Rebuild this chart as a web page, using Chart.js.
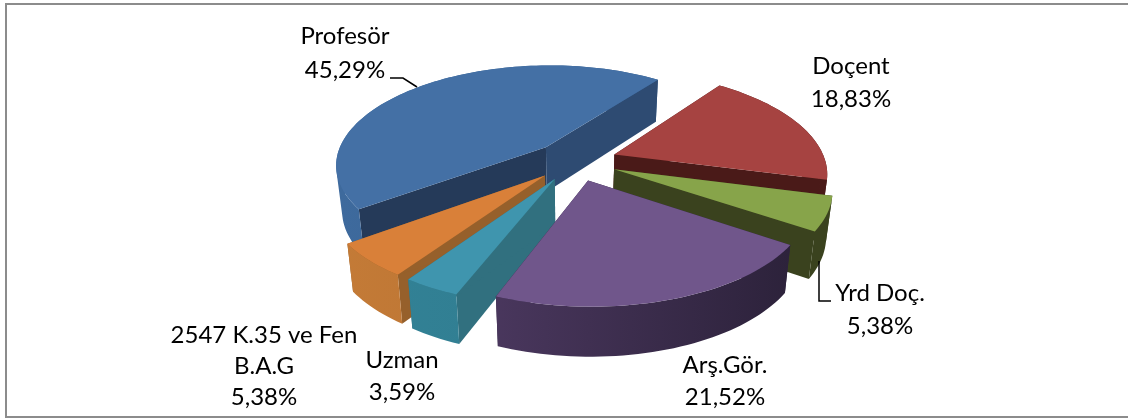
<!DOCTYPE html>
<html><head><meta charset="utf-8">
<style>html,body{margin:0;padding:0;background:#fff;overflow:hidden}#w{width:1128px;height:419px;position:relative}</style>
<script src="https://cdn.jsdelivr.net/npm/chart.js@4/dist/chart.umd.js"></script>
</head><body><div id="w"><canvas id="c" width="1128" height="419"></canvas></div>
<script>
const categories = ['Profesör','Doçent','Yrd Doç.','Arş.Gör.','Uzman','2547 K.35 ve Fen B.A.G'];
const values = [45.29,18.83,5.38,21.52,3.59,5.38];
const valueLabels = ['45,29%','18,83%','5,38%','21,52%','3,59%','5,38%'];
const topColors = ['#4470A5','#A64341','#87A44A','#70568B','#3F95AE','#D98039'];
const startWallColors = ['#253A59','#4A1A18','#3A421E','#2E2340','#31707F','#96602B'];
const endWallColors = ['#2E4B72','#4A1A18','#3A421E','#2E2340','#31707F','#96602B'];
const wallLeftColors = [[62,106,157],[90,40,38],[58,66,30],[85,63,107],[50,130,150],[196,123,55]];
const wallRightColors = [[50,90,135],[74,26,24],[58,66,30],[43,33,57],[48,120,140],[176,107,46]];
const labelSpots = [[345,[36,70]],[851,[66,99]],[880,[293,326]],[725,[365,397]],[402,[360,392]],[264,[335,366,397]]];
const labelLines = [['Profesör'],['Doçent'],['Yrd Doç.'],['Arş.Gör.'],['Uzman'],['2547 K.35 ve Fen','B.A.G']];

const SX=211, SY=99, KX=0.17, KY=0.16, DEPTH=45, DP=0.5, SHRINK=0.975, EXPLODE=0.2, Y0=161;
const css=c=>`rgb(${c.join(',')})`;

const pie3d = {
  id:'pie3d',
  beforeDatasetsDraw(chart){
    const ctx=chart.ctx, arcs=chart.getDatasetMeta(0).data;
    const cx=arcs[0].x;
    const proj=(U,V,low)=>{
      const FX=1/(1-KX*V), F=1/(1-KY*V);
      let x=cx+SX*U*FX, y=Y0+SY*V*F;
      if(low){ x=cx+(x-cx)*SHRINK; y+=DEPTH*Math.pow(F,DP); }
      return [x,y];
    };
    const poly=(pts,fill)=>{
      ctx.beginPath(); pts.forEach((p,i)=>i?ctx.lineTo(p[0],p[1]):ctx.moveTo(p[0],p[1]));
      ctx.closePath(); ctx.fillStyle=fill; ctx.fill();
    };
    const items=arcs.map((a,i)=>{
      const mid=(a.startAngle+a.endAngle)/2;
      return {a,i,ox:EXPLODE*Math.cos(mid),oy:EXPLODE*Math.sin(mid)};
    }).sort((p,q)=>p.oy-q.oy);
    items.forEach(({a,i,ox,oy})=>{
      const pt=(t)=>[ox+Math.cos(t),oy+Math.sin(t)];
      const s=a.startAngle,e=a.endAngle,n=Math.max(8,Math.ceil((e-s)/0.03));
      const ang=[];for(let j=0;j<=n;j++)ang.push(s+(e-s)*j/n);
      const wall=(front)=>{
        const gl=proj(ox-1,oy),gr=proj(ox+1,oy);
        const g=ctx.createLinearGradient(gl[0],0,gr[0],0);
        g.addColorStop(0,css(wallLeftColors[i]));g.addColorStop(1,css(wallRightColors[i]));
        ctx.beginPath();
        for(let j=0;j<n;j++){
          if((Math.sin((ang[j]+ang[j+1])/2)>0)!==front)continue;
          let q=[proj(...pt(ang[j])),proj(...pt(ang[j+1])),proj(...pt(ang[j+1]),1),proj(...pt(ang[j]),1)];
          let area=0;
          q.forEach((p,k)=>{const r=q[(k+1)%4];area+=p[0]*r[1]-r[0]*p[1];});
          if(area<0)q.reverse();
          q.forEach((p,k)=>k?ctx.lineTo(p[0],p[1]):ctx.moveTo(p[0],p[1]));
          ctx.closePath();
        }
        ctx.fillStyle=g;ctx.fill();
      };
      wall(false);
      const [su,sv]=pt(s),[eu,ev]=pt(e);
      poly([proj(ox,oy),proj(su,sv),proj(su,sv,1),proj(ox,oy,1)],startWallColors[i]);
      poly([proj(ox,oy),proj(eu,ev),proj(eu,ev,1),proj(ox,oy,1)],endWallColors[i]);
      wall(true);
      poly([proj(ox,oy),...ang.map(t=>proj(...pt(t)))],topColors[i]);
    });
    return false;
  },
  afterDraw(chart){
    const ctx=chart.ctx;
    ctx.save();
    ctx.strokeStyle='#8c8c8c';ctx.lineWidth=2;
    ctx.strokeRect(6,4,1125,413);
    ctx.fillStyle='#000';ctx.font='24px Lato';ctx.textAlign='center';ctx.textBaseline='middle';
    categories.forEach((c,i)=>{
      const [x,ys]=labelSpots[i];
      const lines=[...labelLines[i],valueLabels[i]];
      lines.forEach((t,j)=>ctx.fillText(t,x,ys[j]));
    });
    ctx.strokeStyle='#000';ctx.lineWidth=1.5;
    ctx.beginPath();ctx.moveTo(390,78);ctx.lineTo(403,78);ctx.lineTo(417,87);ctx.stroke();
    ctx.beginPath();ctx.moveTo(819,261);ctx.lineTo(819,301);ctx.lineTo(831,301);ctx.stroke();
    ctx.restore();
  }
};
new Chart(document.getElementById('c'),{
  type:'pie',
  data:{labels:categories,datasets:[{data:values,backgroundColor:topColors,borderWidth:0,offset:0}]},
  options:{responsive:false,animation:false,rotation:-126.4,
    layout:{padding:{left:22}},
    plugins:{legend:{display:false},tooltip:{enabled:false}}},
  plugins:[pie3d]
});
</script></body></html>
